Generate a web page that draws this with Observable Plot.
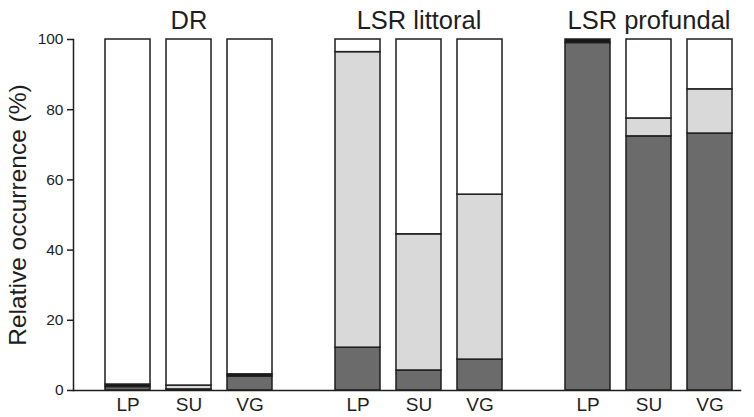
<!DOCTYPE html>
<html>
<head>
<meta charset="utf-8">
<script src="https://cdn.jsdelivr.net/npm/d3@7"></script>
<script src="https://cdn.jsdelivr.net/npm/@observablehq/plot@0.6"></script>
<style>
  html, body { margin: 0; padding: 0; background: #fff; }
</style>
</head>
<body>
<div id="chart"></div>
<script>
// Facet groups and sites (bar order within each group)
const groups = ["DR", "LSR littoral", "LSR profundal"];
const sites = ["LP", "SU", "VG"];

// Each bar position: group x site (9 bars)
const barGroup = ["DR", "DR", "DR", "LSR littoral", "LSR littoral", "LSR littoral", "LSR profundal", "LSR profundal", "LSR profundal"];
const barSite  = ["LP", "SU", "VG", "LP", "SU", "VG", "LP", "SU", "VG"];

// Stacked series (bottom to top), relative occurrence (%)
const seriesNames = ["Dark grey", "Black", "Light grey", "White"];
const darkGreyValues  = [1.0, 0.3, 4.0, 12.2, 5.7, 8.8, 99.0, 72.4, 73.2];
const blackValues     = [0.7, 0.0, 0.6, 0.0, 0.0, 0.0, 1.0, 0.0, 0.0];
const lightGreyValues = [0.0, 1.1, 0.0, 84.2, 38.8, 47.0, 0.0, 5.1, 12.6];
const whiteValues     = [98.3, 98.6, 95.4, 3.6, 55.5, 44.2, 0.0, 22.5, 14.2];

const yTicks = [0, 20, 40, 60, 80, 100];
const yLabel = "Relative occurrence (%)";

// Styles
const seriesColors = ["#6b6b6b", "#161616", "#d9d9d9", "#ffffff"];
const ink = "#1e1e1e";

const seriesValues = [darkGreyValues, blackValues, lightGreyValues, whiteValues];
const data = [];
seriesNames.forEach((name, s) => {
  seriesValues[s].forEach((v, i) => {
    data.push({group: barGroup[i], site: barSite[i], series: name, value: v});
  });
});

const chart = Plot.plot({
  width: 754,
  height: 417,
  marginLeft: 73,
  marginRight: 14,
  marginTop: 39,
  marginBottom: 27,
  style: {fontFamily: "'Liberation Sans', Arial, Helvetica, sans-serif", color: ink, background: "#fff"},
  fx: {domain: groups, paddingInner: 0.1, paddingOuter: 0, axis: null, label: null},
  x: {domain: sites, paddingInner: 0.258, paddingOuter: 0.3175, align: 0.797, label: null},
  y: {domain: [0, 100], label: null},
  color: {domain: seriesNames, range: seriesColors},
  marks: [
    Plot.barY(data, {
      fx: "group", x: "site", y: "value", fill: "series",
      filter: d => d.value > 0,
      stroke: ink, strokeWidth: 1.5
    }),
    Plot.frame({anchor: "bottom", facet: "super", stroke: ink, strokeWidth: 1.5}),
    Plot.frame({anchor: "left", facet: "super", stroke: ink, strokeWidth: 1.5}),
    Plot.axisY({ticks: yTicks, tickSize: 6, tickPadding: 4, fontSize: 15.5, label: null, stroke: ink, strokeWidth: 1.5}),
    Plot.axisX({tickSize: 0, tickPadding: 7, fontSize: 19, label: null}),
    Plot.text(groups, {
      fx: d => d, x: () => sites[1], frameAnchor: "top",
      lineAnchor: "bottom", dy: -11, fontSize: 25.5, fill: ink
    }),
    Plot.text([yLabel], {
      frameAnchor: "left", rotate: -90, lineAnchor: "bottom", textAnchor: "middle",
      dx: -48, fontSize: 24.5, fill: ink, facet: "super"
    })
  ]
});
document.getElementById("chart").appendChild(chart);
</script>
</body>
</html>
